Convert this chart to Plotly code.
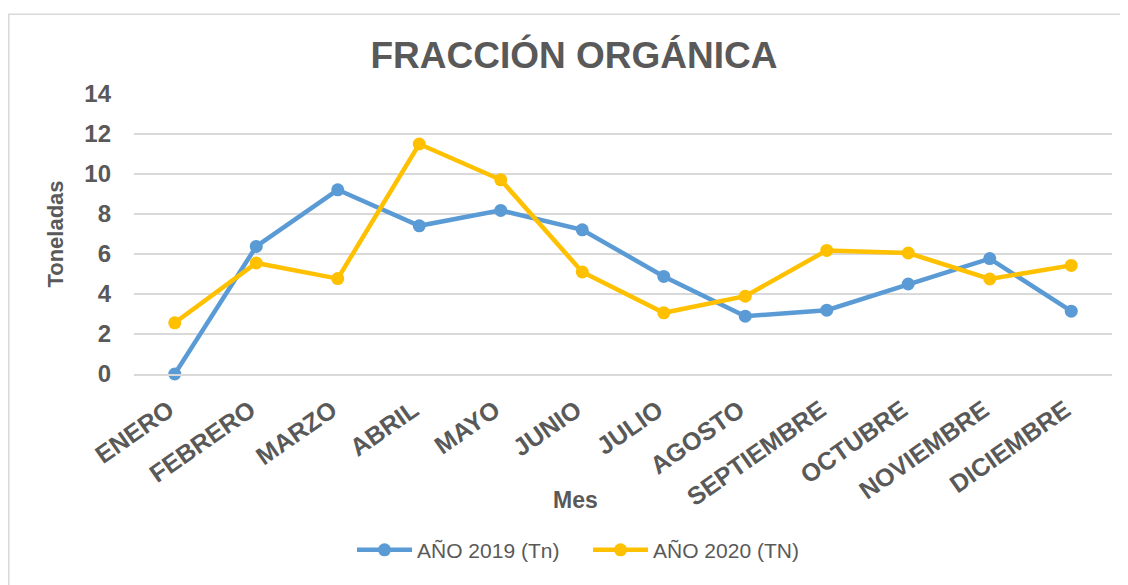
import plotly.graph_objects as go

meses = ["ENERO", "FEBRERO", "MARZO", "ABRIL", "MAYO", "JUNIO", "JULIO",
         "AGOSTO", "SEPTIEMBRE", "OCTUBRE", "NOVIEMBRE", "DICIEMBRE"]
anio_2019 = [0, 6.38, 9.21, 7.41, 8.18, 7.21, 4.88, 2.89, 3.19, 4.50, 5.77, 3.14]
anio_2020 = [2.56, 5.55, 4.77, 11.5, 9.71, 5.10, 3.06, 3.89, 6.18, 6.05, 4.75, 5.43]
y_ticks = [0, 2, 4, 6, 8, 10, 12, 14]

GREY = "#595959"
FONT = "Liberation Sans, Arial, sans-serif"

# page body has an 8px margin: figure sits at (8, 8) on screen
OFF = 8
W, H = 1128 - OFF, 585 - OFF
# plot area in screen pixels
SL, SR, ST, SB = 134, 1112, 94, 374.5
L, R, T, B = SL - OFF, W - (SR - OFF), ST - OFF, H - (SB - OFF)
pw, ph = W - L - R, H - T - B


def px_x(sx):
    return (sx - OFF - L) / pw


def px_y(sy):
    return (H - B - (sy - OFF)) / ph


fig = go.Figure()
fig.add_trace(go.Scatter(x=meses, y=anio_2019, name="AÑO 2019 (Tn)", mode="lines+markers",
                         line=dict(color="#5B9BD5", width=4.5),
                         marker=dict(size=13, color="#5B9BD5"), cliponaxis=False,
                         legend="legend", showlegend=True))
fig.add_trace(go.Scatter(x=meses, y=anio_2020, name="AÑO 2020 (TN)", mode="lines+markers",
                         line=dict(color="#FFC000", width=4.5),
                         marker=dict(size=13, color="#FFC000"), cliponaxis=False,
                         legend="legend2", showlegend=True))

leg_common = dict(orientation="h", xanchor="left", y=px_y(551), yanchor="middle",
                  font=dict(size=21, color=GREY, family=FONT), itemwidth=55,
                  bgcolor="rgba(0,0,0,0)", visible=True)

fig.update_layout(
    width=W, height=H,
    showlegend=True,
    margin=dict(l=L, r=R, t=T, b=B, autoexpand=False),
    paper_bgcolor="white", plot_bgcolor="white",
    font=dict(family=FONT, color=GREY),
    title=dict(text="<b>FRACCIÓN ORGÁNICA</b>", x=(574 - OFF) / W, xanchor="center",
               y=1 - (55 - OFF) / H, yanchor="middle",
               font=dict(size=37, color=GREY, family=FONT)),
    xaxis=dict(showgrid=False, showline=True, linecolor="#D9D9D9", linewidth=1.5,
               tickangle=-35, ticks="", ticklabelstandoff=10, ticklabelshift=-6,
               tickfont=dict(size=25, color=GREY, family=FONT, weight="bold"),
               range=[-0.5, 11.5]),
    yaxis=dict(range=[0, 14], tickvals=y_ticks, showgrid=True, gridcolor="#D9D9D9",
               gridwidth=1.5, zeroline=False, showline=False, ticks="",
               ticklabelstandoff=22,
               tickfont=dict(size=24, color=GREY, family=FONT, weight="bold"),
               title=dict(text="<b>Toneladas</b>", font=dict(size=22, color=GREY, family=FONT), standoff=14)),
    legend=dict(x=px_x(352), **leg_common),
    legend2=dict(x=px_x(588), **leg_common),
    annotations=[dict(text="<b>Mes</b>", xref="paper", yref="paper",
                      x=px_x(575), y=px_y(501), xanchor="center", yanchor="middle",
                      showarrow=False, font=dict(size=23, color=GREY, family=FONT))],
    shapes=[dict(type="rect", xref="paper", yref="paper",
                 x0=px_x(8.8), x1=px_x(1140), y0=px_y(600), y1=px_y(14),
                 line=dict(color="#D9D9D9", width=1.5), fillcolor="rgba(0,0,0,0)", layer="below")],
)

fig.write_html("out.html")
